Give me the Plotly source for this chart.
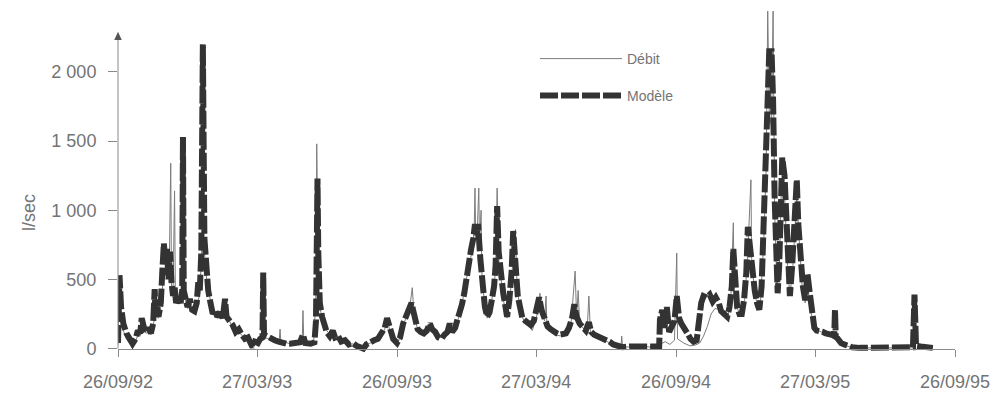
import pandas as pd
import plotly.graph_objects as go

# Origin of the day counts used below
START = "1992-09-26"

# Modelled flow (l/sec), day offset from START -> value
mod_day = [0, 2, 4, 7, 11, 15, 19, 23, 26, 29, 31, 34, 37, 40, 43, 46, 48, 49, 51, 53,
           56, 58, 60, 62, 64, 66, 68, 70, 72, 74, 76, 79, 82, 84, 85, 86, 89, 91, 94, 97,
           100, 103, 105, 107, 109, 111, 113, 115, 118, 121, 124, 127, 130, 134, 137, 140, 142, 146, 150, 154,
           158, 162, 166, 170, 174, 176, 179, 183, 186, 189, 190, 191, 195, 200, 205, 210, 215, 220, 225, 232,
           238, 242, 245, 252, 257, 259, 261, 262, 264, 267, 270, 273, 277, 281, 284, 288, 292, 297, 302, 307,
           312, 317, 321, 325, 330, 335, 340, 345, 349, 352, 356, 360, 365, 369, 373, 376, 380, 384, 386, 389,
           392, 396, 400, 404, 408, 411, 415, 419, 423, 427, 431, 434, 437, 441, 444, 447, 450, 453, 456, 459,
           462, 465, 467, 469, 471, 474, 477, 480, 483, 486, 489, 492, 494, 496, 498, 501, 504, 507, 509, 512,
           515, 517, 520, 523, 526, 529, 533, 537, 540, 544, 548, 551, 554, 558, 562, 566, 570, 574, 578, 582,
           586, 590, 594, 597, 600, 604, 608, 612, 616, 619, 623, 628, 633, 638, 643, 648, 653, 660, 670, 680,
           690, 700, 708, 709, 712, 715, 718, 721, 724, 728, 731, 734, 737, 741, 745, 749, 753, 757, 760, 763,
           766, 770, 774, 778, 782, 786, 789, 793, 797, 800, 803, 805, 807, 810, 813, 816, 819, 822, 824, 827,
           830, 833, 836, 839, 842, 845, 848, 850, 852, 855, 857, 859, 861, 863, 865, 867, 869, 872, 875, 877,
           879, 882, 885, 888, 890, 893, 896, 899, 902, 905, 908, 911, 914, 918, 922, 926, 930, 934, 937, 938,
           939, 942, 946, 950, 955, 960, 970, 985, 1000, 1015, 1030, 1040, 1042, 1044, 1050, 1058, 1066]
mod_val = [40, 530, 300, 180, 110, 60, 35, 70, 130, 110, 220, 150, 120, 150, 110, 180, 430, 250, 300, 230,
           330, 560, 760, 620, 720, 500, 700, 480, 380, 450, 330, 360, 330, 420, 1530, 420, 330, 300, 360, 280,
           270, 330, 480, 420, 700, 2200, 800, 560, 420, 330, 250, 280, 230, 260, 220, 360, 230, 200, 170, 120,
           140, 100, 70, 80, 30, 10, 50, 40, 70, 80, 550, 100, 90, 70, 60, 50, 40, 35, 35, 40,
           45, 100, 40, 35, 45, 200, 1230, 700, 330, 230, 170, 120, 90, 130, 80, 90, 50, 60, 30, 40,
           20, 10, 0, 30, 50, 60, 70, 110, 150, 220, 120, 70, 40, 80, 180, 220, 260, 330, 280, 200,
           140, 120, 110, 130, 180, 140, 120, 80, 70, 100, 120, 180, 120, 150, 200, 260, 320, 400, 520, 650,
           720, 800, 900, 820, 900, 650, 450, 300, 230, 260, 350, 450, 600, 1030, 700, 480, 400, 300, 230, 350,
           560, 850, 600, 380, 300, 220, 200, 180, 170, 200, 280, 370, 280, 220, 160, 140, 120, 110, 100, 100,
           110, 150, 220, 320, 230, 180, 160, 130, 190, 120, 100, 90, 80, 60, 50, 30, 20, 10, 15, 20,
           15, 15, 15, 210, 280, 150, 300, 120, 150, 200, 380, 220, 180, 150, 110, 70, 50, 60, 200, 330,
           380, 370, 390, 340, 370, 330, 270, 250, 230, 300, 450, 720, 450, 300, 250, 250, 350, 550, 880, 700,
           500, 420, 330, 280, 450, 900, 1400, 1900, 2150, 2150, 1800, 1100, 700, 400, 600, 1000, 1380, 1250, 900, 500,
           380, 600, 900, 1220, 900, 600, 450, 350, 540, 400, 250, 150, 130, 130, 120, 110, 110, 100, 90, 280,
           90, 60, 40, 30, 15, 10, 5, 5, 5, 5, 5, 10, 390, 20, 15, 10, 5]

# Measured flow (l/sec), day offset from START -> value
deb_day = [0, 2, 4, 7, 11, 15, 19, 23, 26, 29, 31, 34, 37, 40, 43, 46, 49, 53, 56, 59,
           62, 65, 67, 69, 70, 72, 74, 75, 78, 82, 85, 87, 91, 95, 100, 104, 107, 111, 113, 116,
           119, 122, 126, 130, 135, 140, 144, 148, 153, 158, 163, 168, 173, 178, 183, 188, 190, 192, 198, 205,
           211, 212, 213, 220, 225, 232, 238, 241, 242, 243, 250, 256, 259, 260, 262, 264, 268, 272, 277, 281,
           286, 292, 300, 310, 320, 330, 340, 345, 349, 352, 356, 362, 367, 372, 377, 381, 385, 387, 391, 396,
           402, 408, 413, 419, 425, 431, 435, 440, 445, 450, 455, 459, 463, 466, 467, 468, 470, 472, 473, 475,
           476, 479, 483, 487, 491, 494, 496, 498, 502, 506, 509, 513, 517, 520, 522, 526, 531, 537, 542, 545,
           549, 552, 554, 558, 560, 561, 566, 572, 580, 588, 593, 598, 600, 602, 604, 610, 614, 616, 618, 624,
           632, 640, 650, 658, 659, 660, 670, 685, 700, 709, 716, 722, 728, 731, 732, 740, 748, 755, 761, 766,
           771, 776, 781, 787, 793, 798, 802, 805, 806, 810, 815, 820, 824, 828, 829, 833, 837, 840, 845, 848,
           850, 852, 855, 857, 859, 862, 865, 868, 872, 876, 879, 883, 888, 891, 895, 899, 903, 907, 912, 920,
           928, 935, 940, 946, 955, 970, 1000, 1040, 1043, 1050, 1066]
deb_val = [30, 500, 250, 130, 70, 40, 30, 50, 100, 90, 200, 130, 110, 130, 100, 160, 240, 220, 300, 500,
           580, 650, 560, 1340, 450, 400, 1140, 420, 350, 330, 650, 380, 290, 330, 260, 320, 400, 900, 700, 500,
           400, 320, 260, 220, 240, 330, 220, 180, 120, 120, 90, 70, 40, 40, 40, 60, 200, 80, 70, 55,
           60, 140, 55, 40, 35, 35, 40, 60, 275, 60, 40, 40, 400, 1480, 500, 300, 200, 140, 100, 120,
           80, 60, 40, 30, 20, 40, 60, 100, 140, 210, 120, 60, 50, 160, 220, 270, 440, 260, 160, 110,
           110, 170, 130, 80, 80, 110, 170, 140, 210, 320, 480, 600, 700, 850, 1160, 800, 850, 1160, 750, 1000,
           550, 350, 220, 280, 420, 560, 1160, 650, 450, 280, 220, 380, 650, 860, 450, 280, 200, 170, 130, 180,
           260, 400, 260, 200, 380, 180, 130, 100, 90, 100, 200, 560, 230, 420, 170, 140, 160, 380, 120, 90,
           70, 50, 25, 15, 90, 15, 10, 15, 10, 30, 50, 30, 60, 690, 70, 40, 20, 25, 40, 90,
           160, 250, 290, 280, 240, 230, 400, 910, 430, 290, 240, 360, 700, 1220, 650, 400, 300, 280, 800, 1300,
           2440, 1700, 1600, 2440, 1000, 450, 550, 1200, 1100, 600, 380, 600, 1100, 800, 450, 330, 420, 250, 140, 120,
           100, 90, 70, 40, 15, 5, 5, 5, 60, 15, 5]

# Axis ticks
tick_dates = ["1992-09-26", "1993-03-27", "1993-09-26", "1994-03-27",
              "1994-09-26", "1995-03-27", "1995-09-26"]
tick_labels = ["26/09/92", "27/03/93", "26/09/93", "27/03/94",
               "26/09/94", "27/03/95", "26/09/95"]
y_ticks = [0, 500, 1000, 1500, 2000]
y_labels = ["0", "500", "1 000", "1 500", "2 000"]


def to_dates(days):
    return pd.Timestamp(START) + pd.to_timedelta(days, unit="D")


FONT = "Liberation Sans"
GREY_TXT = "#747474"
AXIS = "#8a8a8a"
Y_MIN, Y_MAX = -61, 2491
PLOT_W, PLOT_H, TOP = 837, 353, 4

fig = go.Figure()

fig.add_trace(go.Scatter(
    x=to_dates(deb_day), y=deb_val, mode="lines", name="Débit",
    line=dict(color="#7c7c7c", width=1),
    legend="legend", showlegend=True,
))

fig.add_trace(go.Scatter(
    x=to_dates(mod_day), y=mod_val, mode="lines", name="Modèle",
    line=dict(color="#333333", width=6, dash="18px,3px"),
    legend="legend2", showlegend=True,
))

# Vertical axis drawn as a line with an arrow head on top
fig.add_shape(type="line", xref="paper", yref="y", x0=0, x1=0, y0=0, y1=2235,
              line=dict(color=AXIS, width=1))
fig.add_shape(type="path", xref="paper", yref="y",
              path="M -0.0045,2230 L 0.0045,2230 L 0,2290 Z",
              fillcolor="#555555", line=dict(width=0))

fig.add_annotation(text="l/sec", xref="paper", yref="y", x=0, y=980,
                   xshift=-101, textangle=-90, showarrow=False,
                   font=dict(family=FONT, size=18, color=GREY_TXT))

legend_style = dict(xanchor="left", yanchor="top", itemwidth=82,
                    bgcolor="rgba(0,0,0,0)",
                    font=dict(family=FONT, size=14, color=GREY_TXT))

fig.update_layout(
    width=1002, height=399,
    margin=dict(l=118, r=47, t=TOP, b=42),
    paper_bgcolor="white", plot_bgcolor="white",
    font=dict(family=FONT, color=GREY_TXT),
    showlegend=True,
    legend=dict(x=(535 - 118) / PLOT_W, y=(TOP + PLOT_H - 43) / PLOT_H, **legend_style),
    legend2=dict(x=(535 - 118) / PLOT_W, y=(TOP + PLOT_H - 80) / PLOT_H, **legend_style),
    xaxis=dict(
        range=["1992-09-26", "1995-09-26"],
        anchor="free", position=(0 - Y_MIN) / (Y_MAX - Y_MIN),
        showgrid=False, zeroline=False,
        showline=True, linecolor=AXIS, linewidth=1,
        ticks="outside", ticklen=7, tickcolor=AXIS,
        tickvals=tick_dates, ticktext=tick_labels,
        ticklabelstandoff=10,
        tickfont=dict(family=FONT, size=18, color=GREY_TXT),
    ),
    yaxis=dict(
        range=[Y_MIN, Y_MAX],
        showgrid=False, zeroline=False, showline=False,
        ticks="outside", ticklen=9, tickcolor=AXIS,
        tickvals=y_ticks, ticktext=y_labels,
        ticklabelstandoff=8,
        tickfont=dict(family=FONT, size=18, color=GREY_TXT),
    ),
)

fig.write_html("out.html")
